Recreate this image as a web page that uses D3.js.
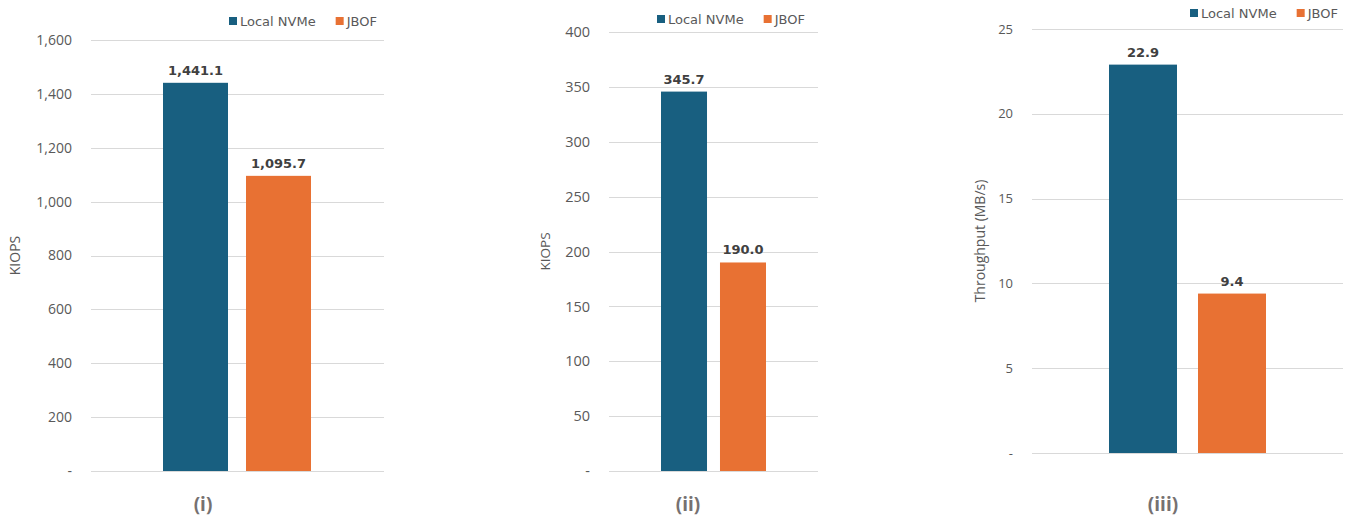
<!DOCTYPE html>
<html>
<head>
<meta charset="utf-8">
<script src="https://cdn.jsdelivr.net/npm/d3@7"></script>
<style>
  body { margin: 0; background: #fff; }
  svg { display: block; }
</style>
</head>
<body>
<script>
// data
var series = ["Local NVMe", "JBOF"];
var panelNames = ["(i)", "(ii)", "(iii)"];
var yTitles = ["KIOPS", "KIOPS", "Throughput (MB/s)"];
var valuesI = [1441.1, 1095.7];
var valuesII = [345.7, 190.0];
var valuesIII = [22.9, 9.4];
var ticksI = [0, 200, 400, 600, 800, 1000, 1200, 1400, 1600];
var ticksII = [0, 50, 100, 150, 200, 250, 300, 350, 400];
var ticksIII = [0, 5, 10, 15, 20, 25];

var colors = d3.scaleOrdinal().domain(series).range(["#185f80", "#e87133"]);

// set up svg
var width = 1352, height = 518;
var svg = d3.select("body").append("svg")
    .attr("width", width)
    .attr("height", height);

// layout of each panel (pixel positions of the three pasted charts)
var panels = [
  { values: valuesI, ticks: ticksI, gridX: [91, 384], y: [471, 40], bars: [163, 311], pad: 0.217,
    tickSize: 14, titleX: 15, titleSize: 14, nameX: 203, legendX: 229, legendY: 21 },
  { values: valuesII, ticks: ticksII, gridX: [609, 818], y: [471, 32], bars: [661, 766], pad: 0.22,
    tickSize: 14.5, titleX: 545, titleSize: 13.5, nameX: 688, legendX: 657, legendY: 19 },
  { values: valuesIII, ticks: ticksIII, gridX: [1032, 1343], y: [453, 29], bars: [1109, 1266], pad: 0.236,
    tickSize: 13, titleX: 980, titleSize: 14, nameX: 1163, legendX: 1190, legendY: 13 }
];

var fmtTick = function(d) { return d === 0 ? "-" : d3.format(",")(d); };
var fmtVal = d3.format(",.1f");

panels.forEach(function(p, i) {
  var g = svg.append("g");

  var y = d3.scaleLinear()
      .domain([0, d3.max(p.ticks)])
      .range(p.y);

  var x = d3.scaleBand()
      .domain(series)
      .range(p.bars)
      .paddingInner(p.pad)
      .paddingOuter(0);

  // gridlines
  g.append("g")
    .selectAll("line")
    .data(p.ticks)
    .enter().append("line")
      .attr("x1", p.gridX[0])
      .attr("x2", p.gridX[1])
      .attr("y1", function(d) { return Math.round(y(d)) + 0.5; })
      .attr("y2", function(d) { return Math.round(y(d)) + 0.5; })
      .style("stroke", "#d9d9d9")
      .style("stroke-width", 1);

  // y axis (labels only)
  var axis = g.append("g")
      .attr("transform", "translate(" + (p.gridX[0] - 19) + ",0)")
      .call(d3.axisLeft(y).tickValues(p.ticks).tickFormat(fmtTick).tickSize(0).tickPadding(0));
  axis.select(".domain").remove();
  axis.selectAll("text")
      .style("font-family", "'Open Sans', sans-serif")
      .style("font-size", p.tickSize + "px")
      .style("fill", "#595959");

  // axis title
  var cy = (p.y[0] + p.y[1]) / 2;
  g.append("text")
      .attr("transform", "translate(" + p.titleX + "," + cy + ") rotate(-90)")
      .attr("text-anchor", "middle")
      .attr("dy", "0.35em")
      .style("font-family", "'Open Sans', sans-serif")
      .style("font-size", p.titleSize + "px")
      .style("fill", "#595959")
      .text(yTitles[i]);

  // bars
  g.append("g")
    .selectAll("rect")
    .data(p.values)
    .enter().append("rect")
      .attr("x", function(d, j) { return x(series[j]); })
      .attr("y", function(d) { return y(d); })
      .attr("width", x.bandwidth())
      .attr("height", function(d) { return y(0) - y(d); })
      .style("fill", function(d, j) { return colors(series[j]); });

  // value labels
  g.append("g")
    .selectAll("text")
    .data(p.values)
    .enter().append("text")
      .attr("x", function(d, j) { return x(series[j]) + x.bandwidth() / 2; })
      .attr("y", function(d) { return y(d) - 8; })
      .attr("text-anchor", "middle")
      .style("font-family", "'DejaVu Sans', sans-serif")
      .style("font-size", "13px")
      .style("font-weight", "bold")
      .style("fill", "#404040")
      .text(function(d) { return fmtVal(d); });

  // legend
  var lx = p.legendX;
  series.forEach(function(s) {
    g.append("rect")
        .attr("x", lx)
        .attr("y", p.legendY - 4)
        .attr("width", 8)
        .attr("height", 8)
        .style("fill", colors(s));
    var t = g.append("text")
        .attr("x", lx + 11)
        .attr("y", p.legendY)
        .attr("dy", "0.35em")
        .style("font-family", "'DejaVu Sans', sans-serif")
        .style("font-size", "13px")
        .style("fill", "#595959")
        .text(s);
    lx += 11 + t.node().getComputedTextLength() + 20;
  });

  // panel caption
  g.append("text")
      .attr("x", p.nameX)
      .attr("y", 511)
      .attr("text-anchor", "middle")
      .style("font-family", "'Open Sans', sans-serif")
      .style("font-size", "19px")
      .style("font-weight", "bold")
      .style("fill", "#767171")
      .text(panelNames[i]);
});
</script>
</body>
</html>
